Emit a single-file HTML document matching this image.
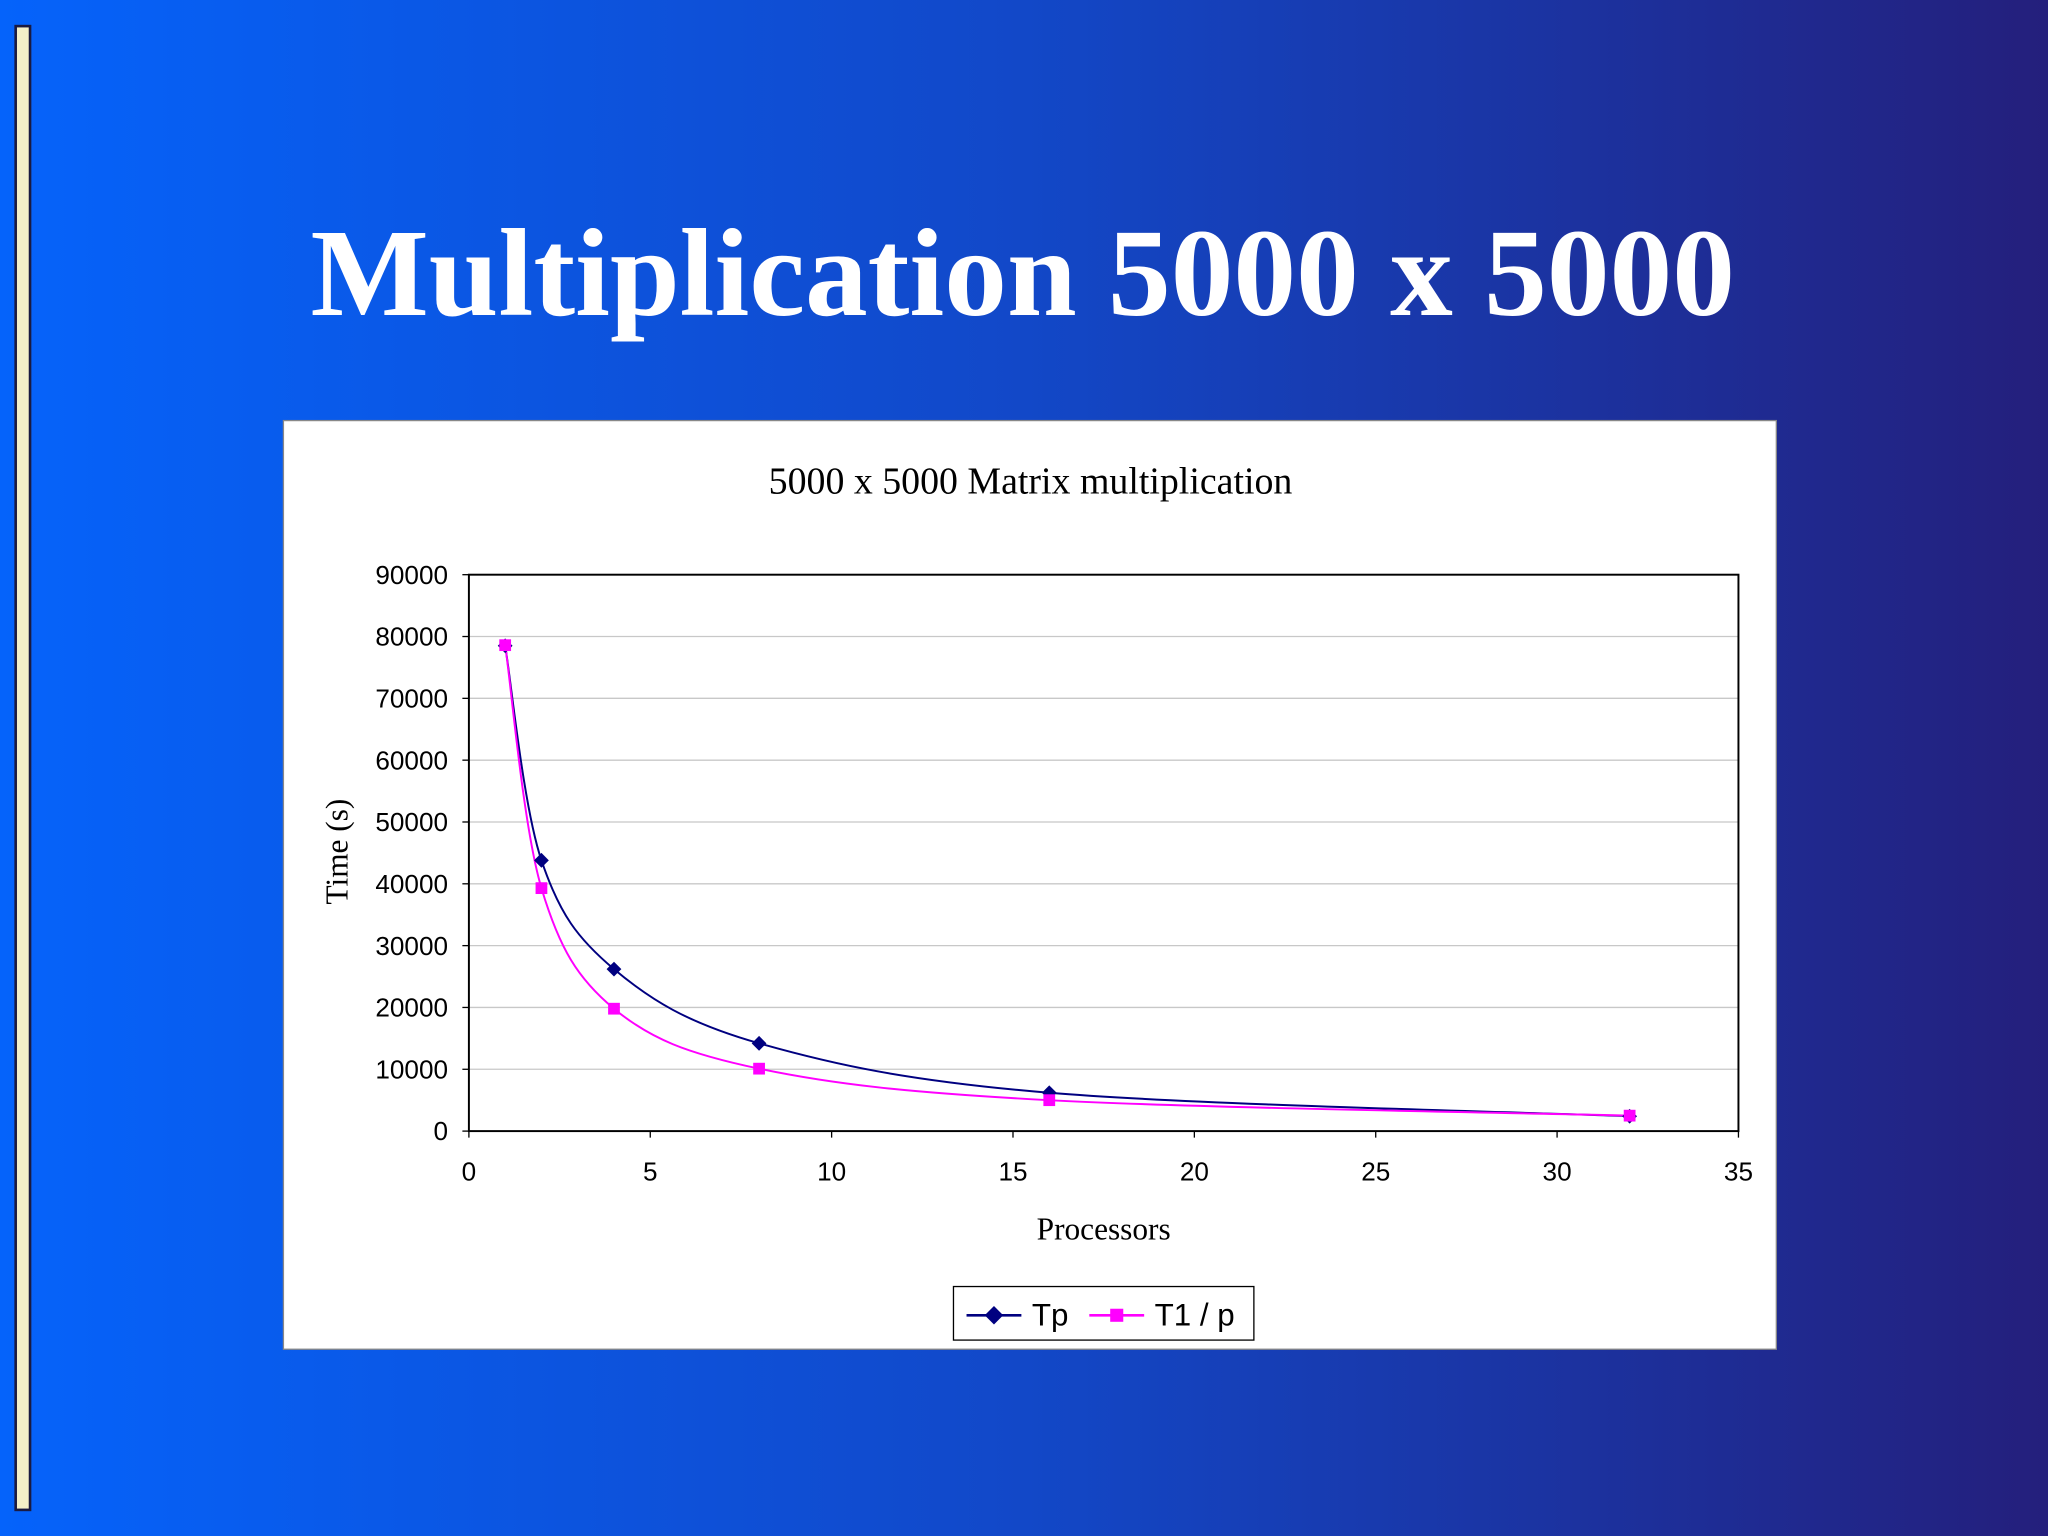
<!DOCTYPE html>
<html><head><meta charset="utf-8">
<style>
html,body{margin:0;padding:0;width:2048px;height:1536px;overflow:hidden}
svg{display:block}
</style></head>
<body>
<svg id="s" width="2048" height="1536" viewBox="0 0 1568 1176" xmlns="http://www.w3.org/2000/svg">
<defs>
<linearGradient id="bg" x1="0" y1="0" x2="1" y2="0">
<stop offset="0" stop-color="#0563fb"/>
<stop offset="0.5" stop-color="#1248c8"/>
<stop offset="1" stop-color="#241f7c"/>
</linearGradient>
</defs>
<rect x="0" y="0" width="1568" height="1176" fill="url(#bg)"/>
<rect x="12" y="20" width="11" height="1136" fill="#f4f0c8" stroke="#1a1a40" stroke-width="2"/>
<text x="783" y="241" text-anchor="middle" font-family="Liberation Serif, serif" font-weight="bold" font-size="96" fill="#fff">Multiplication 5000 x 5000</text>
<rect x="217" y="322" width="1143" height="711" fill="#fff" stroke="#888" stroke-width="1"/>
<text x="789" y="378" text-anchor="middle" font-family="Liberation Serif, serif" font-size="29" fill="#000">5000 x 5000 Matrix multiplication</text>
<g id="plot"></g>
<text x="845" y="949" text-anchor="middle" font-family="Liberation Serif, serif" font-size="24" fill="#000">Processors</text>
<text transform="translate(266,652) rotate(-90)" text-anchor="middle" font-family="Liberation Serif, serif" font-size="24" fill="#000">Time (s)</text>
<g>
<rect x="730" y="985" width="230" height="41" fill="#fff" stroke="#000" stroke-width="1"/>
<line x1="740" y1="1007" x2="782" y2="1007" stroke="#000080" stroke-width="2"/>
<rect x="756" y="1002" width="10" height="10" fill="#000080" transform="rotate(45 761 1007)"/>
<text x="790" y="1015" font-family="Liberation Sans, sans-serif" font-size="24">Tp</text>
<line x1="834" y1="1007" x2="876" y2="1007" stroke="#ff00ff" stroke-width="2"/>
<rect x="850" y="1002" width="10" height="10" fill="#ff00ff"/>
<text x="884" y="1015" font-family="Liberation Sans, sans-serif" font-size="24">T1 / p</text>
</g>
</svg>
<script>
const procs=[1,2,4,8,16,32];
const tp=[78500,43800,26200,14200,6200,2400];
const t1p=[78600,39300,19800,10100,5000,2500];
const xTicks=[0,5,10,15,20,25,30,35];
const yTicks=[0,10000,20000,30000,40000,50000,60000,70000,80000,90000];
const L=359,R=1331,T=440,B=866;
const X=v=>L+(v/35)*(R-L);
const Y=v=>B-(v/90000)*(B-T);
const NS="http://www.w3.org/2000/svg";
const g=document.getElementById('plot');
function mk(t,a){const e=document.createElementNS(NS,t);for(const k in a)e.setAttribute(k,a[k]);g.appendChild(e);return e;}
yTicks.forEach(v=>{
 if(v>0&&v<90000){const l=mk('line',{x1:L,x2:R,y1:Y(v),y2:Y(v),stroke:'#c8c8c8','stroke-width':1});
 
 }
 const t=mk('text',{x:343,y:Y(v)+7,'text-anchor':'end','font-family':'Liberation Sans, sans-serif','font-size':20});
 t.textContent=v;
 
 
 mk('line',{x1:L-5,x2:L,y1:Y(v),y2:Y(v),stroke:'#000'});
});
xTicks.forEach(v=>{
 const t=mk('text',{x:X(v),y:904,'text-anchor':'middle','font-family':'Liberation Sans, sans-serif','font-size':20});
 t.textContent=v;
 
 
 mk('line',{x1:X(v),x2:X(v),y1:B,y2:B+5,stroke:'#000'});
});
const frame=mk('rect',{x:L,y:T,width:R-L,height:B-T,fill:'none',stroke:'#000','stroke-width':1.5});


function smooth(xs,ys){
 const p=xs.map((x,i)=>[X(x),Y(ys[i])]);
 let d=`M${p[0][0]},${p[0][1]}`;
 for(let i=0;i<p.length-1;i++){
  const p0=p[i-1]||p[i],p1=p[i],p2=p[i+1],p3=p[i+2]||p2;
  const c1=[p1[0]+(p2[0]-p0[0])/6,p1[1]+(p2[1]-p0[1])/6];
  const c2=[p2[0]-(p3[0]-p1[0])/6,p2[1]-(p3[1]-p1[1])/6];
  d+=` C${c1[0]},${c1[1]} ${c2[0]},${c2[1]} ${p2[0]},${p2[1]}`;
 }
 return d;
}
const l1=mk('path',{d:smooth(procs,tp),fill:'none',stroke:'#000080','stroke-width':1.5});


const l2=mk('path',{d:smooth(procs,t1p),fill:'none',stroke:'#ff00ff','stroke-width':1.5});


procs.forEach((p,i)=>{
 const x=X(p),y=Y(tp[i]);
 const m=mk('rect',{x:x-4,y:y-4,width:8,height:8,fill:'#000080',transform:`rotate(45 ${x} ${y})`});
 
 
});
procs.forEach((p,i)=>{
 const x=X(p),y=Y(t1p[i]);
 const m=mk('rect',{x:x-4.5,y:y-4.5,width:9,height:9,fill:'#ff00ff'});
 
 
});
</script>
</body></html>
